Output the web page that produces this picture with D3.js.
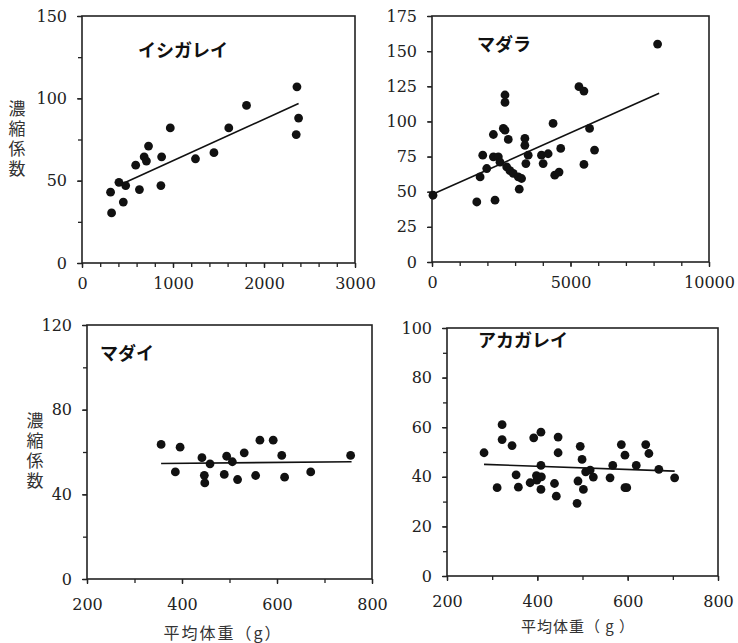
<!DOCTYPE html>
<html>
<head>
<meta charset="utf-8">
<script src="https://cdn.jsdelivr.net/npm/d3@7"></script>
<style>
  body { margin: 0; background: #fff; }
  svg text.num { font-family: "DejaVu Serif", "Liberation Serif", serif; }
</style>
</head>
<body>
<script>
// イシガレイ
var ishiX = [314, 325, 406, 454, 480, 590, 631, 683, 708, 731, 867, 875, 970, 1247, 1450, 1613, 1808, 2362, 2380, 2354];
var ishiY = [43, 30.4, 49, 37, 47, 59.4, 44.6, 64.5, 61.9, 71, 47, 64.5, 82, 63.3, 67, 82, 95.7, 107, 88, 78];
var ishiFit = [[480, 49], [2380, 96.8]];

// マダラ
var madaraX = [36, 1617, 1737, 1832, 1976, 2216, 2275, 2216, 2395, 2455, 2575, 2635, 2635, 2635, 2754, 2695, 2814, 2934, 3114, 3234, 3150,
  3353, 3353, 3389, 3473, 3952, 4012, 4192, 4371, 4431, 4587, 4647, 5305, 5485, 5485, 5689, 5868, 8144];
var madaraY = [47.5, 42.7, 60.5, 76, 66.5, 90.7, 44, 74.8, 74.8, 71, 95, 118.8, 113.5, 93.8, 87.2, 67.7, 65, 63, 60.6, 59.4, 51.8,
  87.9, 83, 70, 76, 76, 70, 77, 98.6, 61.8, 64, 80.8, 124.7, 121.6, 69.4, 95, 79.6, 155];
var madaraFit = [[0, 48], [8200, 120]];

// マダイ
var madaiX = [356, 386, 396, 442, 447, 448, 459, 489, 494, 506, 517, 531, 555, 564, 592, 610, 616, 671, 755];
var madaiY = [63.6, 50.6, 62.3, 57.3, 49, 45.4, 54.4, 49.4, 58, 55.4, 47, 59.6, 48.9, 65.6, 65.6, 58.4, 48.1, 50.6, 58.4];
var madaiFit = [[356, 54.6], [757, 55.4]];

// アカガレイ
var akaX = [282, 311, 322, 322, 344, 353, 358, 384, 392, 398, 399, 408, 408, 409, 408, 438, 442, 446, 446, 488, 490, 495, 499, 502,
  507, 517, 524, 561, 567, 586, 594, 594, 598, 619, 640, 647, 669, 704];
var akaY = [49.7, 35.6, 61, 55, 52.6, 40.8, 35.8, 37.6, 55.7, 40.5, 38.7, 58, 44.6, 40, 34.9, 37.3, 32.2, 56, 49.7, 29.3, 38.3, 52.3, 47, 34.9,
  42, 42.7, 39.9, 39.6, 44.6, 53, 48.7, 35.6, 35.6, 44.6, 53, 49.4, 43, 39.6];
var akaFit = [[282, 45], [704, 42.3]];

// tick labels and minor ticks
var ishiXTicks = [0, 1000, 2000, 3000], ishiXMinor = d3.range(0, 3001, 200);
var ishiYTicks = [0, 50, 100, 150], ishiYMinor = d3.range(0, 151, 25);
var madaraXTicks = [0, 5000, 10000], madaraXMinor = d3.range(0, 10001, 1000);
var madaraYTicks = [0, 25, 50, 75, 100, 125, 150, 175], madaraYMinor = madaraYTicks;
var madaiXTicks = [200, 400, 600, 800], madaiXMinor = d3.range(200, 801, 100);
var madaiYTicks = [0, 40, 80, 120], madaiYMinor = d3.range(0, 121, 20);
var akaXTicks = [200, 400, 600, 800], akaXMinor = d3.range(200, 801, 100);
var akaYTicks = [0, 20, 40, 60, 80, 100], akaYMinor = d3.range(0, 101, 10);

var svg = d3.select("body")
    .append("svg")
    .attr("width", 738)
    .attr("height", 643);

var fmt = d3.format("d");

function panel(o) {
  var x = d3.scaleLinear().domain(o.xDomain).range([o.left, o.right]);
  var y = d3.scaleLinear().domain(o.yDomain).range([o.bottom, o.top]);
  var g = svg.append("g");

  // minor ticks
  g.append("g").attr("transform", "translate(0," + o.bottom + ")")
    .call(d3.axisBottom(x).tickValues(o.xMinor).tickSize(4).tickFormat(""));
  g.append("g").attr("transform", "translate(" + o.left + ",0)")
    .call(d3.axisLeft(y).tickValues(o.yMinor).tickSize(4).tickFormat(""));
  // labelled ticks
  g.append("g").attr("transform", "translate(0," + o.bottom + ")")
    .call(d3.axisBottom(x).tickValues(o.xTicks).tickSize(5).tickPadding(o.xPad).tickFormat(fmt));
  g.append("g").attr("transform", "translate(" + o.left + ",0)")
    .call(d3.axisLeft(y).tickValues(o.yTicks).tickSize(5).tickPadding(10).tickFormat(fmt));
  g.selectAll(".domain").remove();
  g.selectAll("g").attr("font-family", null).attr("font-size", 16);
  g.selectAll(".tick line").attr("stroke", "#222").attr("stroke-width", 1.3);
  g.selectAll(".tick text")
    .attr("class", "num")
    .attr("fill", "#222");

  // frame
  g.append("rect")
    .attr("x", o.left).attr("y", o.top)
    .attr("width", o.right - o.left).attr("height", o.bottom - o.top)
    .attr("fill", "none").attr("stroke", "#222").attr("stroke-width", 1.6);

  // regression line
  g.append("path")
    .datum(o.fit)
    .attr("fill", "none").attr("stroke", "#111").attr("stroke-width", 1.6)
    .attr("d", d3.line().x(function(d) { return x(d[0]); }).y(function(d) { return y(d[1]); }));

  // points
  g.selectAll("circle")
    .data(o.xs)
    .enter().append("circle")
    .attr("cx", function(d) { return x(d); })
    .attr("cy", function(d, i) { return y(o.ys[i]); })
    .attr("r", 4.4)
    .attr("fill", "#111");

  g.append("text")
    .attr("x", o.titleX).attr("y", o.titleY)
    .attr("dy", "0.35em")
    .attr("font-family", "Noto Sans CJK JP")
    .attr("font-weight", "bold")
    .attr("font-size", 18)
    .attr("fill", "#111")
    .text(o.title);
}

panel({ title: "イシガレイ", titleX: 138, titleY: 51,
  left: 82, right: 355, top: 16, bottom: 263, xPad: 10,
  xDomain: [0, 3000], yDomain: [0, 150],
  xTicks: ishiXTicks, xMinor: ishiXMinor, yTicks: ishiYTicks, yMinor: ishiYMinor,
  xs: ishiX, ys: ishiY, fit: ishiFit });

panel({ title: "マダラ", titleX: 477, titleY: 45,
  left: 432, right: 709, top: 16, bottom: 262, xPad: 10,
  xDomain: [0, 10000], yDomain: [0, 175],
  xTicks: madaraXTicks, xMinor: madaraXMinor, yTicks: madaraYTicks, yMinor: madaraYMinor,
  xs: madaraX, ys: madaraY, fit: madaraFit });

panel({ title: "マダイ", titleX: 100, titleY: 354,
  left: 87, right: 372, top: 325, bottom: 579, xPad: 15,
  xDomain: [200, 800], yDomain: [0, 120],
  xTicks: madaiXTicks, xMinor: madaiXMinor, yTicks: madaiYTicks, yMinor: madaiYMinor,
  xs: madaiX, ys: madaiY, fit: madaiFit });

panel({ title: "アカガレイ", titleX: 478, titleY: 341,
  left: 447, right: 718, top: 328, bottom: 576, xPad: 15,
  xDomain: [200, 800], yDomain: [0, 100],
  xTicks: akaXTicks, xMinor: akaXMinor, yTicks: akaYTicks, yMinor: akaYMinor,
  xs: akaX, ys: akaY, fit: akaFit });

// y axis labels, written vertically
function vlabel(cx, cy) {
  svg.append("text")
    .attr("x", cx)
    .attr("y", cy)
    .attr("text-anchor", "middle")
    .style("writing-mode", "vertical-rl")
    .attr("font-family", "Noto Sans CJK JP")
    .attr("font-size", 17)
    .attr("letter-spacing", 3)
    .attr("fill", "#333")
    .text("濃縮係数");
}
vlabel(17, 140);
vlabel(35, 452);

// x axis labels
svg.append("text")
  .attr("x", 223).attr("y", 639)
  .attr("text-anchor", "middle")
  .attr("font-family", "Noto Sans CJK JP")
  .attr("font-size", 16)
  .attr("letter-spacing", 2)
  .attr("fill", "#333")
  .text("平均体重（g）");

svg.append("text")
  .attr("x", 578).attr("y", 632)
  .attr("text-anchor", "middle")
  .attr("font-family", "Noto Sans CJK JP")
  .attr("font-size", 15)
  .attr("letter-spacing", 1)
  .attr("fill", "#333")
  .text("平均体重（ g ）");
</script>
</body>
</html>
